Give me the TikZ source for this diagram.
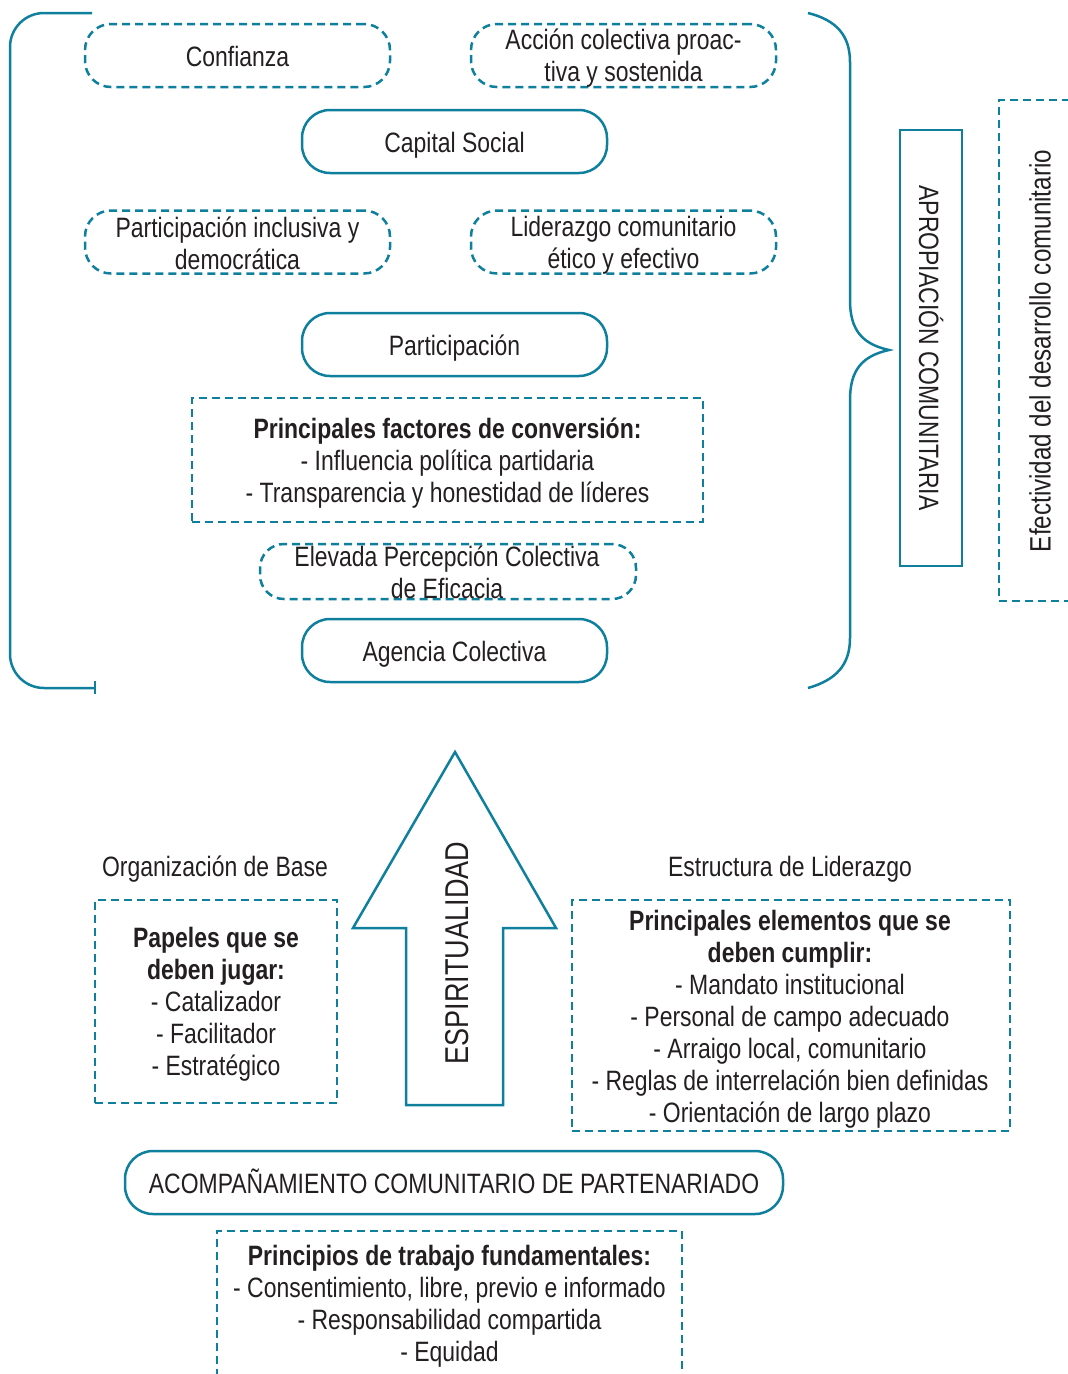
\documentclass[tikz,border=0pt]{standalone}
\usepackage{fontspec}
\setmainfont{Liberation Sans}[FakeStretch=0.82]
\definecolor{lineblue}{HTML}{0E7F9D}
\definecolor{ink}{HTML}{231F20}
\newcommand\bodysize{\fontsize{28}{32}\selectfont}
\newcommand\sidesize{\fontsize{29.5}{34}\selectfont}
\newcommand\bigsize{\fontsize{33}{38}\selectfont}
\begin{document}
\begin{tikzpicture}[x=1pt,y=-1pt,
  stroke/.style={draw=lineblue,line width=2.5pt},
  dashpat/.style={dash pattern=on 8pt off 5pt},
  solidbox/.style={stroke,rounded corners=28pt,minimum width=305pt,minimum height=63pt,inner sep=0pt,text=ink,font=\bodysize,text height=21pt,text depth=0pt},
  dashround/.style={stroke,dashpat,rounded corners=26pt,minimum width=305pt,minimum height=63pt,inner sep=0pt},
  dashrect/.style={stroke,dashpat,inner sep=0pt},
  rtxt/.style={text=ink,font=\bodysize,align=center,inner sep=0pt},
  txt/.style={rtxt,yshift=-2pt}]
\useasboundingbox (0,0) rectangle (1068,1374);

% left bracket
\draw[stroke,rounded corners=34pt] (92,13) -- (10,13) -- (10,688) -- (95,688);
\draw[stroke] (95,681) -- (95,694);

% right brace
\draw[stroke] (808,13) .. controls (836,20) and (850,35) .. (850,62) -- (850,300)
  .. controls (850,330) and (862,344) .. (889,350)
  .. controls (862,356) and (850,370) .. (850,400) -- (850,638)
  .. controls (850,665) and (836,680) .. (808,688);

% upper group
\node[dashround] (conf) at (237.5,55.5) {};
\node[txt] (confT) at (237.5,54.5) {Confianza};
\node[dashround] (accion) at (623.5,55.5) {};
\node[txt] (accionT) at (623.5,56) {Acción colectiva proac-\\tiva y sostenida};
\node[solidbox] (capital) at (454.5,141.5) {Capital Social};
\node[dashround] (partinc) at (237.5,242) {};
\node[txt] (partincT) at (237.5,241.5) {Participación inclusiva y\\democrática};
\node[dashround] (lider) at (623.5,242) {};
\node[txt] (liderT) at (623.5,243) {Liderazgo comunitario\\ético y efectivo};
\node[solidbox] (partic) at (454.5,344.5) {Participación};
\node[dashrect,minimum width=511pt,minimum height=124pt] (factores) at (447.5,460) {};
\node[txt] (factoresT) at (447.5,461) {\textbf{Principales factores de conversión:}\\- Influencia política partidaria\\- Transparencia y honestidad de líderes};
\node[dashround,minimum width=376pt,minimum height=55pt,rounded corners=24pt] (elevada) at (448,571.5) {};
\node[txt] (elevadaT) at (447,570.5) {Elevada Percepción Colectiva\\de Eficacia};
\node[solidbox] (agencia) at (454.5,650.5) {Agencia Colectiva};

% right side labels
\node[stroke,minimum width=62pt,minimum height=436pt,inner sep=0pt] (apro) at (931,348) {};
\node[rtxt,rotate=-90] (aproT) at (931,348) {APROPIACIÓN COMUNITARIA};
\node[dashrect,minimum width=110pt,minimum height=501pt] (efect) at (1054,350.5) {};
\node[rtxt,rotate=90,font=\sidesize] (efectT) at (1040,351) {Efectividad del desarrollo comunitario};

% upward arrow
\draw[stroke,line join=miter] (455,752) -- (556,928) -- (503,928) -- (503,1105)
  -- (406,1105) -- (406,928) -- (353,928) -- cycle;
\node[rtxt,rotate=90,font=\bigsize] (espir) at (457,953) {ESPIRITUALIDAD};

% lower left
\node[txt] (orgbase) at (215,867) {Organización de Base};
\node[dashrect,minimum width=242pt,minimum height=203pt] (papeles) at (216,1001.5) {};
\node[txt] (papelesT) at (216,1002) {\textbf{Papeles que se}\\\textbf{deben jugar:}\\- Catalizador\\- Facilitador\\- Estratégico};

% lower right
\node[txt] (estruct) at (790,867) {Estructura de Liderazgo};
\node[dashrect,minimum width=438pt,minimum height=231pt] (elem) at (791,1015.5) {};
\node[txt] (elemT) at (790,1017) {\textbf{Principales elementos que se}\\\textbf{deben cumplir:}\\- Mandato institucional\\- Personal de campo adecuado\\- Arraigo local, comunitario\\- Reglas de interrelación bien definidas\\- Orientación de largo plazo};

% bottom
\node[solidbox,minimum width=658pt] (acomp) at (454,1182.5) {ACOMPAÑAMIENTO COMUNITARIO DE PARTENARIADO};
\node[dashrect,minimum width=465pt,minimum height=180pt] (princ) at (449.5,1321) {};
\node[txt] (princT) at (449.5,1304) {\textbf{Principios de trabajo fundamentales:}\\- Consentimiento, libre, previo e informado\\- Responsabilidad compartida\\- Equidad};
\end{tikzpicture}
\end{document}
